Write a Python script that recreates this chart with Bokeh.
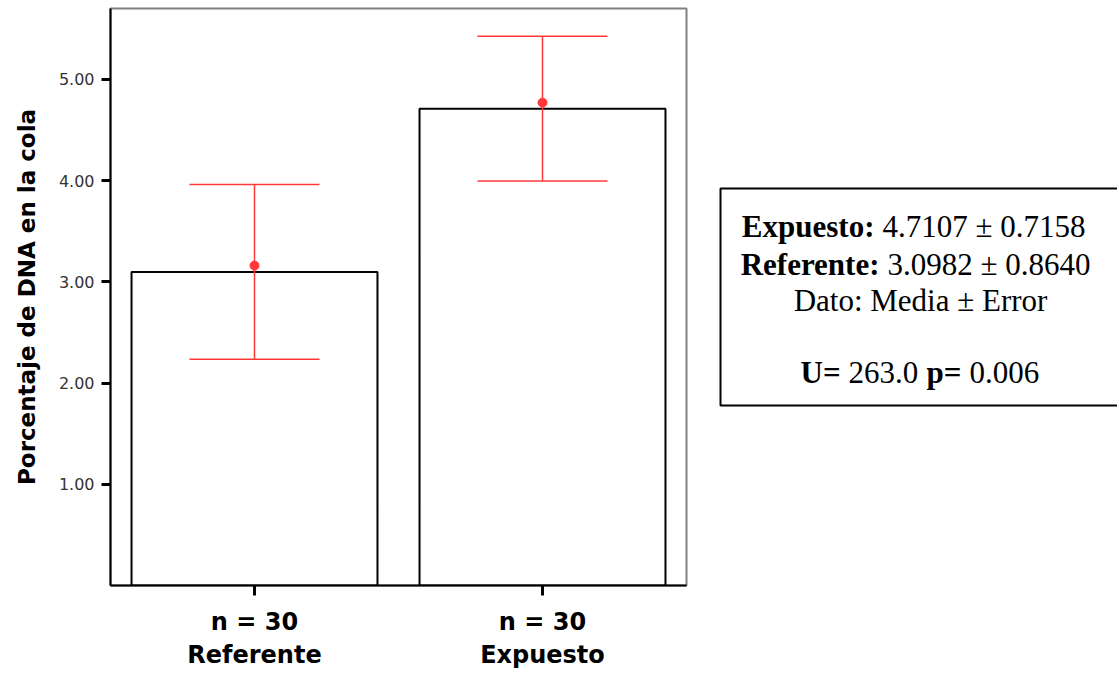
from bokeh.plotting import figure
from bokeh.models import (FactorRange, Range1d, FixedTicker, NumeralTickFormatter,
                          Whisker, TeeHead, ColumnDataSource, Label, BoxAnnotation)
from bokeh.layouts import row
from bokeh.embed import file_html
from bokeh.resources import INLINE

# ---- data ----
categories = ["Referente", "Expuesto"]
n_counts = [30, 30]
means = [3.0982, 4.7107]
errors = [0.8640, 0.7158]
points = [3.16, 4.77]
y_ticks = [1, 2, 3, 4, 5]
u_stat = "263.0"
p_value = "0.006"

RED = "#ff3838"
W1, W2, H = 718, 399, 672
BT, BB = 8, 87  # top / bottom borders (frame from y=8 to y=585)

cat_labels = [f"n = {n}\n{c}" for c, n in zip(categories, n_counts)]

src = ColumnDataSource(dict(
    cat=cat_labels,
    mean=means,
    upper=[m + e for m, e in zip(means, errors)],
    lower=[m - e for m, e in zip(means, errors)],
    point=points,
))

p = figure(width=W1, height=H, x_range=FactorRange(*cat_labels),
           y_range=Range1d(0, 5.70), output_backend="svg", toolbar_location=None,
           min_border_left=110, min_border_right=32, min_border_top=BT,
           min_border_bottom=BB)
p.background_fill_color = "white"
p.border_fill_color = "white"
p.outline_line_color = "#808080"
p.outline_line_width = 2
p.grid.visible = False

p.vbar(x="cat", top="mean", bottom=0, width=0.854, source=src,
       fill_color="white", line_color="black", line_width=2)

wh = Whisker(source=src, base="cat", upper="upper", lower="lower",
             line_color=RED, line_width=1.5,
             upper_head=TeeHead(size=130, line_color=RED, line_width=1.5),
             lower_head=TeeHead(size=130, line_color=RED, line_width=1.5))
wh.level = "annotation"
p.add_layout(wh)
p.scatter(x="cat", y="point", source=src, marker="circle", size=9,
          fill_color=RED, line_color=RED)

# y axis
ya = p.yaxis[0]
ya.ticker = FixedTicker(ticks=y_ticks)
ya.formatter = NumeralTickFormatter(format="0.00")
ya.axis_line_color = "black"
ya.axis_line_width = 2
ya.major_tick_out = 9
ya.major_tick_in = 0
ya.major_tick_line_width = 3
ya.minor_tick_line_color = None
ya.major_label_text_font = "DejaVu Sans"
ya.major_label_text_font_size = "16px"
ya.major_label_text_color = "#333333"
ya.major_label_standoff = 7
ya.axis_label = "Porcentaje de DNA en la cola"
ya.axis_label_text_font = "DejaVu Sans"
ya.axis_label_text_font_style = "bold"
ya.axis_label_text_font_size = "23px"
ya.axis_label_text_color = "black"
ya.axis_label_standoff = 16

# x axis
xa = p.xaxis[0]
xa.axis_line_color = "black"
xa.axis_line_width = 2
xa.major_tick_out = 10
xa.major_tick_in = 0
xa.major_tick_line_width = 3
xa.major_label_text_font = "DejaVu Sans"
xa.major_label_text_font_style = "bold"
xa.major_label_text_font_size = "24px"
xa.major_label_text_color = "black"
xa.major_label_text_line_height = 1.2
xa.major_label_standoff = 12

# ---- text box panel (coordinates equal page pixels) ----
q = figure(width=W2, height=H, x_range=Range1d(W1, W1 + W2),
           y_range=Range1d(H - BB, BT),
           output_backend="svg", toolbar_location=None,
           min_border_left=0, min_border_right=0, min_border_top=BT, min_border_bottom=BB)
q.axis.visible = False
q.grid.visible = False
q.outline_line_color = None
q.background_fill_color = "white"
q.border_fill_color = "white"

q.add_layout(BoxAnnotation(left=720, right=1140, top=188, bottom=405,
                           fill_color=None, line_color="black", line_alpha=1.0,
                           line_width=2))

FONT = "Liberation Serif"
FS = "31px"

def lab(x, y, text, bold=False, align="left"):
    q.add_layout(Label(x=x, y=y, text=text, text_font=FONT,
                       text_font_size=FS, text_color="black",
                       text_font_style="bold" if bold else "normal",
                       text_align=align, text_baseline="alphabetic"))

lab(874, 226, "Expuesto:", bold=True, align="right")
lab(882, 226, f"{means[1]:.4f} ± {errors[1]:.4f}")
lab(879, 264, "Referente:", bold=True, align="right")
lab(887, 264, f"{means[0]:.4f} ± {errors[0]:.4f}")
lab(920, 300, "Dato: Media ± Error", align="center")
lab(800, 372, "U=", bold=True)
lab(848, 372, u_stat)
lab(926, 372, "p=", bold=True)
lab(969, 372, p_value)

layout = row(p, q)
open("out.html", "w").write(file_html(layout, INLINE))
